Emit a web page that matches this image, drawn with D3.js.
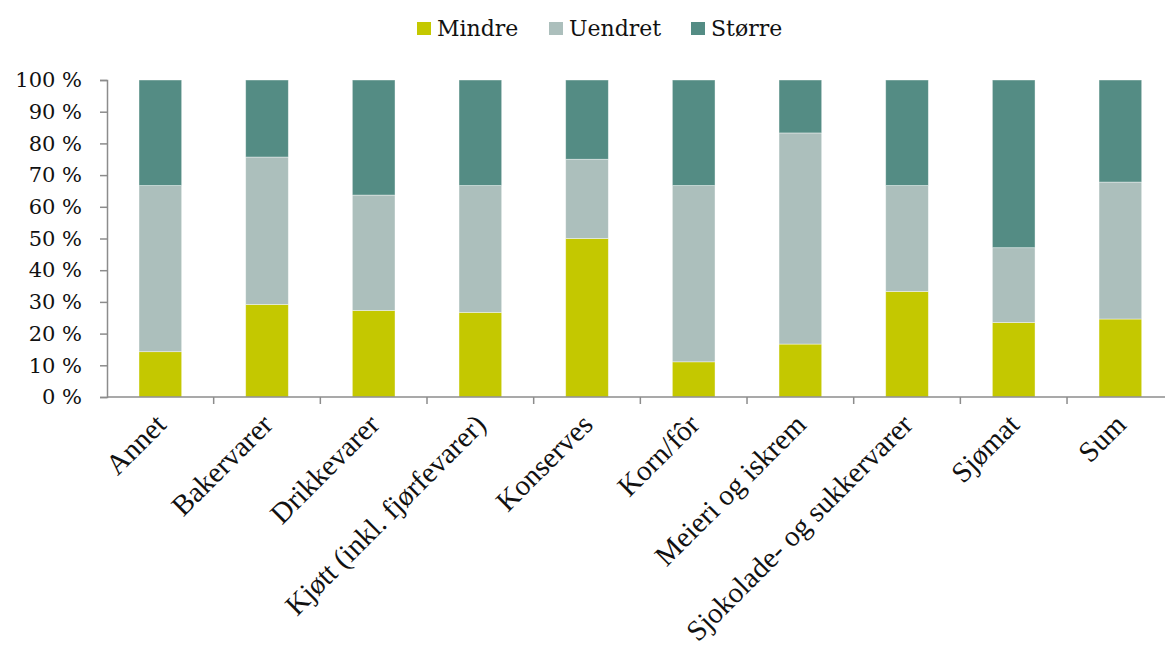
<!DOCTYPE html>
<html>
<head>
<meta charset="utf-8">
<script src="https://cdn.jsdelivr.net/npm/d3@7"></script>
<style>
  html, body { margin: 0; padding: 0; background: #fff; }
  svg { display: block; }
</style>
</head>
<body>
<svg id="chart" width="1165" height="646"></svg>
<script>
// Product groups
const categories = [
  "Annet", "Bakervarer", "Drikkevarer", "Kjøtt (inkl. fjørfevarer)", "Konserves",
  "Korn/fôr", "Meieri og iskrem", "Sjokolade- og sukkervarer", "Sjømat", "Sum"
];
// Share of answers per group, in percent
const mindre  = [14.3, 29.2, 27.3, 26.7, 50.0, 11.1, 16.7, 33.3, 23.5, 24.6];
const uendret = [52.4, 46.5, 36.4, 40.0, 25.0, 55.6, 66.6, 33.4, 23.6, 43.2];
const storre  = [33.3, 24.3, 36.3, 33.3, 25.0, 33.3, 16.7, 33.3, 52.9, 32.2];

const seriesNames = ["Mindre", "Uendret", "Større"];
const seriesColors = ["#c4c800", "#acbfbc", "#548c84"];
const yTicks = [0, 10, 20, 30, 40, 50, 60, 70, 80, 90, 100];

const rows = categories.map((c, i) => ({
  cat: c, Mindre: mindre[i], Uendret: uendret[i], "Større": storre[i]
}));

const svg = d3.select("#chart");
const plotLeft = 107, plotTop = 80, plotBottom = 397;
const plotRight = plotLeft + 10 * 106.67;

const x = d3.scaleBand().domain(categories).range([plotLeft, plotRight]).paddingInner(0.6).paddingOuter(0.3);
const y = d3.scaleLinear().domain([0, 100]).range([plotBottom, plotTop]);
const color = d3.scaleOrdinal().domain(seriesNames).range(seriesColors);

const layers = d3.stack().keys(seriesNames)(rows);

// Stacked bars
svg.append("g")
  .selectAll("g")
  .data(layers)
  .join("g")
  .attr("fill", d => color(d.key))
  .selectAll("rect")
  .data(d => d)
  .join("rect")
  .attr("x", d => x(d.data.cat))
  .attr("width", x.bandwidth())
  .attr("y", d => y(d[1]))
  .attr("height", d => y(d[0]) - y(d[1]))
  .attr("stroke", "#ffffff")
  .attr("stroke-opacity", 0.5)
  .attr("stroke-width", 0.8);

// Y axis
const yAxis = d3.axisLeft(y).tickValues(yTicks).tickSize(7).tickPadding(18)
  .tickFormat(d => d + " %");
const gy = svg.append("g").attr("transform", `translate(${plotLeft},0)`).call(yAxis);
gy.select(".domain").attr("stroke", "#8c8c8c").attr("stroke-width", 1.5);
gy.selectAll(".tick line").attr("stroke", "#8c8c8c").attr("stroke-width", 1.5);
gy.selectAll(".tick text")
  .attr("font-family", "'DejaVu Serif', Georgia, serif")
  .attr("font-size", 21)
  .attr("fill", "#111");

// X axis: baseline plus tick marks on category boundaries
const gx = svg.append("g");
gx.append("line")
  .attr("x1", plotLeft).attr("x2", plotRight)
  .attr("y1", y(0)).attr("y2", y(0))
  .attr("stroke", "#8c8c8c").attr("stroke-width", 1.5);
const step = x.step();
gx.selectAll("line.tick")
  .data(d3.range(1, categories.length + 1))
  .join("line")
  .attr("class", "tick")
  .attr("x1", i => plotLeft + i * step).attr("x2", i => plotLeft + i * step)
  .attr("y1", y(0)).attr("y2", y(0) + 7)
  .attr("stroke", "#8c8c8c").attr("stroke-width", 1.5);

gx.selectAll("text")
  .data(categories)
  .join("text")
  .attr("transform", d => `translate(${x(d) + x.bandwidth() / 2 - 7},${y(0) + 15}) rotate(-45)`)
  .attr("text-anchor", "end")
  .attr("dy", "0.7em")
  .attr("font-family", "'Liberation Serif', 'Times New Roman', serif")
  .attr("font-size", 29)
  .attr("fill", "#111")
  .text(d => d);

// Legend
const legendX = [417, 549, 691];
const lg = svg.append("g");
seriesNames.forEach((name, i) => {
  lg.append("rect")
    .attr("x", legendX[i]).attr("y", 22)
    .attr("width", 14).attr("height", 13)
    .attr("fill", color(name));
  lg.append("text")
    .attr("x", legendX[i] + 20).attr("y", 35.5)
    .attr("font-family", "'DejaVu Serif', Georgia, serif")
    .attr("font-size", 22)
    .attr("fill", "#111")
    .text(name);
});
</script>
</body>
</html>
